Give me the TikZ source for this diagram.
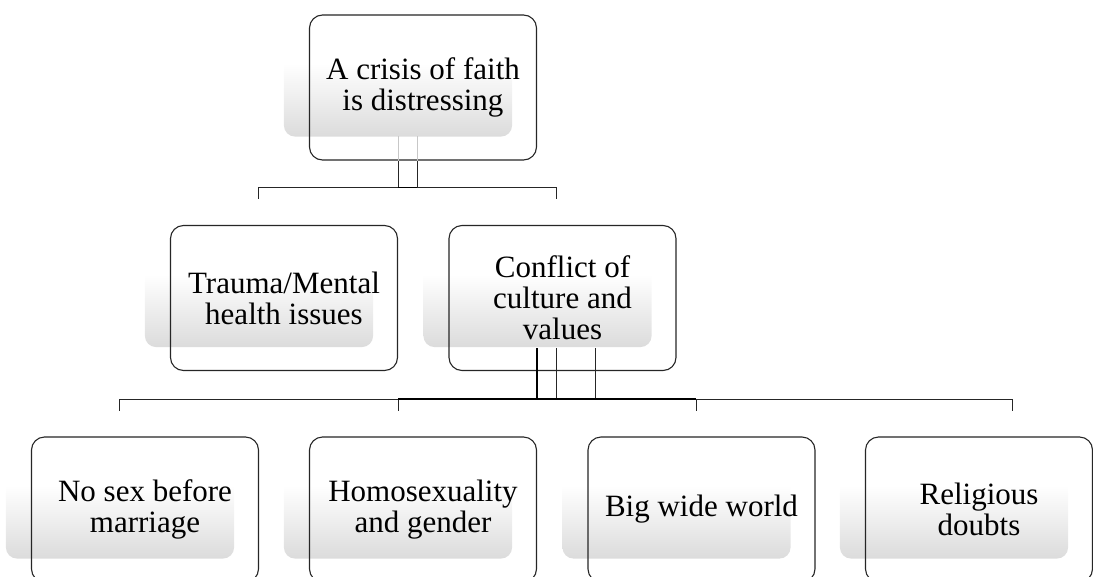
\documentclass[tikz,border=0pt]{standalone}
\usepackage{fontspec}
\setmainfont{Liberation Serif}
\pgfdeclarelayer{bg}
\pgfsetlayers{bg,main}
\begin{document}
\begin{tikzpicture}[x=1pt,y=-1pt,
  box/.style={draw=black!85, line width=1.1pt, rounded corners=13pt,
    minimum width=227pt, minimum height=145pt, align=center,
    font=\fontsize{31}{31}\selectfont, inner sep=0pt},
  glow/.style={rounded corners=11pt, top color=white, bottom color=black!14,
    middle color=white, draw=none},
  thinline/.style={draw=black!85, line width=1pt},
  thickline/.style={draw=black, line width=1.8pt},
  faintline/.style={draw=black!22, line width=0.9pt}]
\useasboundingbox (0,0) rectangle (1093,576);

% boxes
\node[box] (top)    at (423,87.5)    {A crisis of faith\\is distressing};
\node[box] (trauma) at (284,298)     {Trauma/Mental\\health issues};
\node[box] (conf)   at (562.5,298)   {Conflict of\\culture and\\values};
\node[box] (nosex)  at (145,509.5)   {No sex before\\marriage};
\node[box] (homo)   at (423,509.5)   {Homosexuality\\and gender};
\node[box] (big)    at (701.5,509.5) {Big wide world};
\node[box] (rel)    at (979,509.5)   {Religious\\doubts};

% soft gradient panels behind the boxes
\begin{pgfonlayer}{bg}
\foreach \n in {top,trauma,conf,nosex,homo,big,rel}{
  \path[glow] ([shift={(-25,-24)}]\n.south west) rectangle ([shift={(-25,-24)}]\n.north east);
}
\end{pgfonlayer}

% connectors from the top box
\coordinate (ta) at ([xshift=-25pt]top.south);
\coordinate (tb) at ([xshift=-6pt]top.south);
\coordinate (tbus) at ([yshift=-27pt]top.south);
\coordinate (dtrauma) at ([xshift=-26pt,yshift=26pt]trauma.north);
\coordinate (dconf) at ([xshift=-6.5pt,yshift=26pt]conf.north);
\draw[faintline] (ta) -- ++(0,-25);
\draw[faintline] (tb) -- ++(0,-25);
\draw[thinline] (tb) -- (tb |- tbus) -| (dtrauma);
\draw[thinline] (ta) -- (ta |- tbus) -| (dconf);
\draw[thickline] (ta |- tbus) -- (tb |- tbus);

% connectors from the conflict box
\coordinate (ca) at ([xshift=-25.5pt,yshift=23pt]conf.south);
\coordinate (cb) at ([xshift=-6.5pt,yshift=23pt]conf.south);
\coordinate (cc) at ([xshift=32.5pt,yshift=23pt]conf.south);
\coordinate (cbus) at ([yshift=-28pt]conf.south);
\coordinate (dnosex) at ([xshift=-26pt,yshift=25pt]nosex.north);
\coordinate (dhomo) at ([xshift=-25pt,yshift=25pt]homo.north);
\coordinate (dbig) at ([xshift=-5.5pt,yshift=25pt]big.north);
\coordinate (drel) at ([xshift=33pt,yshift=25pt]rel.north);
\draw[thinline] (ca) -- (ca |- cbus) -| (dnosex);
\draw[thinline] (cb) -- (cb |- cbus) -| (dhomo);
\draw[thinline] (cb) -- (cb |- cbus) -| (dbig);
\draw[thinline] (cc) -- (cc |- cbus) -| (drel);
\draw[thickline] (dhomo |- cbus) -- (dbig |- cbus);
\draw[draw=black, line width=1.5pt] (ca) -- (ca |- cbus);
\end{tikzpicture}
\end{document}
